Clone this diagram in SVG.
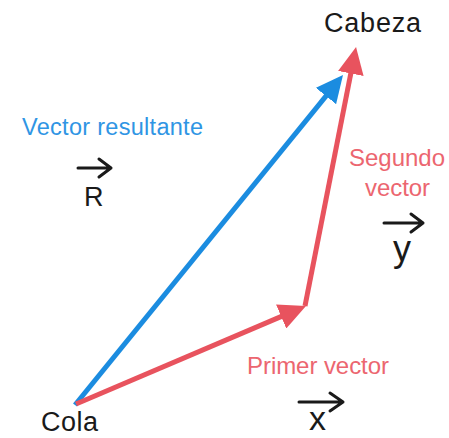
<svg xmlns="http://www.w3.org/2000/svg" width="449" height="438" viewBox="0 0 449 438">
<style>
.lbl{font-family:"Liberation Sans",Arial,sans-serif}
.blk{fill:#1a1a1a}
.blue{fill:#2f95e4}
.red{fill:#ec6670}
.sym{fill:none;stroke:#1a1a1a;stroke-width:3;stroke-linecap:round;stroke-linejoin:round}
</style>
<defs>
<marker id="hb" markerUnits="userSpaceOnUse" viewBox="0 0 27 26" markerWidth="27" markerHeight="26" refX="17" refY="13" orient="auto"><path d="M0,0 L27,13 L0,26 z" fill="#1b8ce0"/></marker>
<marker id="hr" markerUnits="userSpaceOnUse" viewBox="0 0 27 26" markerWidth="27" markerHeight="26" refX="17" refY="13" orient="auto"><path d="M0,0 L27,13 L0,26 z" fill="#e8535e"/></marker>
</defs>
<rect width="449" height="438" fill="#ffffff"/>
<g id="connectors">
<line x1="75" y1="405" x2="336.7" y2="82.8" stroke="#1b8ce0" stroke-width="5" marker-end="url(#hb)"/>
<line x1="76" y1="404" x2="296.8" y2="309.9" stroke="#e8535e" stroke-width="5" marker-end="url(#hr)"/>
<line x1="305" y1="306" x2="354.1" y2="56.8" stroke="#e8535e" stroke-width="5" marker-end="url(#hr)"/>
</g>
<g id="cabeza"><text class="lbl blk" x="324" y="32" font-size="27" textLength="97">Cabeza</text></g>
<g id="cola"><text class="lbl blk" x="41" y="431" font-size="27" textLength="57">Cola</text></g>
<g id="resultante">
<text class="lbl blue" x="22" y="135" font-size="23.5" textLength="181">Vector resultante</text>
<path class="sym" d="M78,168 H111 M99,159 L111,168 L99,177"/>
<text class="lbl blk" x="84" y="206" font-size="27">R</text>
</g>
<g id="segundo">
<text class="lbl red" x="349" y="166" font-size="24" textLength="96">Segundo</text>
<text class="lbl red" x="365" y="196" font-size="24" textLength="65">vector</text>
<path class="sym" d="M384,223 H423 M411,214 L423,223 L411,232"/>
<text class="lbl blk" x="393" y="261" font-size="36">y</text>
</g>
<g id="primer">
<text class="lbl red" x="247" y="374" font-size="24" textLength="142">Primer vector</text>
<path class="sym" d="M299,402 H343 M330,393 L343,402 L330,411"/>
<text class="lbl blk" x="309" y="430" font-size="34">x</text>
</g>
</svg>
